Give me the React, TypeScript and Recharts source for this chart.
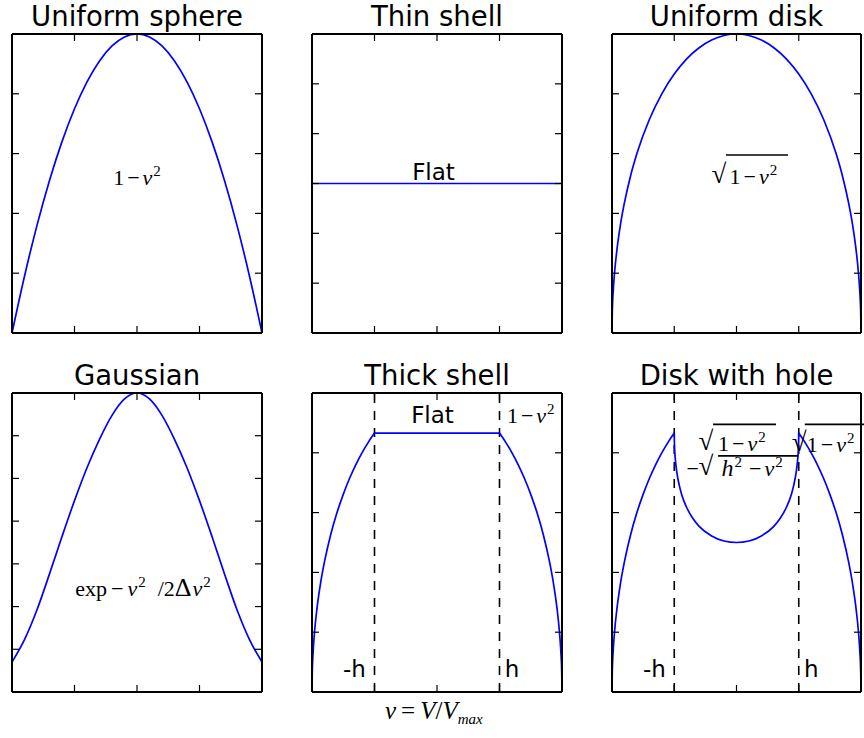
import React from "react";
import { LineChart, Line, XAxis, YAxis, ReferenceLine, ReferenceDot } from "recharts";

const BLUE = "#0000ff";
const SANS = "DejaVu Sans";
const SERIF = "Liberation Serif";
const MATH = 22;
const SUP = 15;

// v = V / Vmax
const sphereV = [-1, -0.9, -0.8, -0.7, -0.6, -0.5, -0.4, -0.3, -0.2, -0.1, 0, 0.1, 0.2, 0.3, 0.4, 0.5, 0.6, 0.7, 0.8, 0.9, 1];
const sphereY = [0, 0.19, 0.36, 0.51, 0.64, 0.75, 0.84, 0.91, 0.96, 0.99, 1, 0.99, 0.96, 0.91, 0.84, 0.75, 0.64, 0.51, 0.36, 0.19, 0];

const shellV = [-1, 1];
const shellY = [0.6, 0.6];

const diskV = [-1, -0.998, -0.99, -0.98, -0.96, -0.93, -0.9, -0.85, -0.8, -0.7, -0.6, -0.5, -0.4, -0.3, -0.2, -0.1, 0, 0.1, 0.2, 0.3, 0.4, 0.5, 0.6, 0.7, 0.8, 0.85, 0.9, 0.93, 0.96, 0.98, 0.99, 0.998, 1];
const diskY = [0, 0.063, 0.141, 0.199, 0.28, 0.368, 0.436, 0.527, 0.6, 0.714, 0.8, 0.866, 0.917, 0.954, 0.98, 0.995, 1, 0.995, 0.98, 0.954, 0.917, 0.866, 0.8, 0.714, 0.6, 0.527, 0.436, 0.368, 0.28, 0.199, 0.141, 0.063, 0];

const gaussV = [-1, -0.9, -0.8, -0.7, -0.6, -0.5, -0.4, -0.3, -0.2, -0.1, 0, 0.1, 0.2, 0.3, 0.4, 0.5, 0.6, 0.7, 0.8, 0.9, 1];
const gaussY = [0.07, 0.1225, 0.1925, 0.2765, 0.364, 0.448, 0.525, 0.5915, 0.6475, 0.686, 0.7, 0.686, 0.6475, 0.5915, 0.525, 0.448, 0.364, 0.2765, 0.1925, 0.1225, 0.07];

const outerLeftV = [-1, -0.998, -0.99, -0.98, -0.96, -0.93, -0.9, -0.85, -0.8, -0.75, -0.7, -0.65, -0.6, -0.55, -0.5];
const outerLeftY = [0, 0.063, 0.141, 0.199, 0.28, 0.368, 0.436, 0.527, 0.6, 0.661, 0.714, 0.76, 0.8, 0.835, 0.866];
const outerRightV = [0.5, 0.55, 0.6, 0.65, 0.7, 0.75, 0.8, 0.85, 0.9, 0.93, 0.96, 0.98, 0.99, 0.998, 1];
const outerRightY = [0.866, 0.835, 0.8, 0.76, 0.714, 0.661, 0.6, 0.527, 0.436, 0.368, 0.28, 0.199, 0.141, 0.063, 0];

const plateauV = [-0.5, 0.5];
const plateauY = [0.866, 0.866];

const holeV = [-0.5, -0.499, -0.495, -0.49, -0.48, -0.46, -0.44, -0.4, -0.35, -0.3, -0.2, -0.1, 0, 0.1, 0.2, 0.3, 0.35, 0.4, 0.44, 0.46, 0.48, 0.49, 0.495, 0.499, 0.5];
const holeY = [0.866, 0.835, 0.798, 0.772, 0.737, 0.692, 0.66, 0.617, 0.58, 0.554, 0.522, 0.505, 0.5, 0.505, 0.522, 0.554, 0.58, 0.617, 0.66, 0.692, 0.737, 0.772, 0.798, 0.835, 0.866];

const hEdges = [-0.5, 0.5];
const xTicks = [-0.5, 0, 0.5];
const unitTicks = [0.2, 0.4, 0.6, 0.8];
const shellTicks = [0.2, 0.4, 0.6, 0.8, 1.0];
const gaussTicks = [0.1, 0.2, 0.3, 0.4, 0.5, 0.6];

const titles = ["Uniform sphere", "Thin shell", "Uniform disk", "Gaussian", "Thick shell", "Disk with hole"];

const toRows = (v: number[], y: number[]) => v.map((x, i) => ({ v: x, y: y[i] }));

const boxes = [
  { left: 12, top: 34, w: 250, h: 299 },
  { left: 312, top: 34, w: 250, h: 299 },
  { left: 612, top: 34, w: 249, h: 299 },
  { left: 12, top: 393, w: 250, h: 299 },
  { left: 312, top: 393, w: 250, h: 299 },
  { left: 612, top: 393, w: 249, h: 299 },
];

const M = 3;
const TICK = 7;
const PLOT_H = 299;
const axisLine = { stroke: "#000", strokeWidth: 2 };
const tickLine = { stroke: "#000", strokeWidth: 1.2 };
const noLabel = () => <g />;

// boxed frame, ticks pointing inwards on all four sides
const frameX = { type: "number" as const, dataKey: "v", domain: [-1, 1], ticks: xTicks, interval: 0, mirror: true, allowDataOverflow: true, tick: noLabel, tickSize: TICK, axisLine, tickLine };
const axes = (yTicks: number[], yDomain: [number, number]) => {
  const frameY = { type: "number" as const, domain: yDomain, ticks: yTicks, interval: 0, mirror: true, allowDataOverflow: true, tick: noLabel, tickSize: TICK, axisLine, tickLine };
  // mirrored top axis only gives the frame line in recharts 3, so its ticks are short segments
  const top = yDomain[1];
  const len = ((yDomain[1] - yDomain[0]) * TICK) / PLOT_H;
  return [
    <XAxis key="xb" {...frameX} />,
    <XAxis key="xt" xAxisId="top" orientation="top" {...frameX} tickLine={false} />,
    <YAxis key="yl" {...frameY} />,
    <YAxis key="yr" yAxisId="right" orientation="right" {...frameY} />,
    ...xTicks.map((t) => (
      <ReferenceLine key={"tt" + t} segment={[{ x: t, y: top }, { x: t, y: top - len }]} stroke="#000" strokeWidth={1.2} />
    )),
  ];
};

const curve = (key: string, v: number[], y: number[], type: "monotone" | "linear" = "monotone") => (
  <Line key={key} data={toRows(v, y)} dataKey="y" type={type} stroke={BLUE} strokeWidth={1.7} dot={false} isAnimationActive={false} />
);

const dashed = () =>
  hEdges.map((x) => <ReferenceLine key={"d" + x} x={x} stroke="#000" strokeWidth={1.6} strokeDasharray="9 8" />);

// "1 − v²"
const oneMinusV2 = () => [
  <tspan key="a">1</tspan>,
  <tspan key="b" dx={3}>−</tspan>,
  <tspan key="c" dx={3} fontStyle="italic">v</tspan>,
  <tspan key="d" dy={-9} dx={1} fontSize={SUP}>2</tspan>,
];

type Pt = { x: number; y: number };
const at = (fn: (p: Pt) => React.ReactNode) => ({
  content: (p: any) => fn({ x: p.viewBox.x, y: p.viewBox.y }),
});

const mathText = (p: Pt, dx: number, dy: number, anchor: "start" | "middle", body: React.ReactNode) => (
  <text x={p.x + dx} y={p.y + dy} fontFamily={SERIF} fontSize={MATH} textAnchor={anchor} fill="#000">
    {body}
  </text>
);

const sansText = (p: Pt, dx: number, dy: number, s: string) => (
  <text x={p.x + dx} y={p.y + dy} fontFamily={SANS} fontSize={23} textAnchor="middle" fill="#000">
    {s}
  </text>
);

// radical sign + bar + radicand
const sqrt = (p: Pt, rx: number, tx: number, b0: number, b1: number, by: number, dy: number, body: React.ReactNode) => (
  <g>
    <text x={p.x + rx} y={p.y + dy - 1} fontFamily={SERIF} fontSize={27} fill="#000">√</text>
    <line x1={p.x + b0} x2={p.x + b1} y1={p.y + by} y2={p.y + by} stroke="#000" strokeWidth={1.7} />
    <text x={p.x + tx} y={p.y + dy} fontFamily={SERIF} fontSize={MATH} fill="#000">{body}</text>
  </g>
);

const label = (key: string, x: number, y: number, fn: (p: Pt) => React.ReactNode) => (
  <ReferenceDot key={key} x={x} y={y} r={0} fill="none" stroke="none" ifOverflow="visible" label={at(fn)} />
);

const hLabels = () => [
  label("mh", -0.66, 0.05, (p) => sansText(p, 0, 0, "-h")),
  label("ph", 0.6, 0.05, (p) => sansText(p, 0, 0, "h")),
];

const panels: React.ReactNode[] = [
  [
    ...axes(unitTicks, [0, 1]),
    curve("s", sphereV, sphereY),
    label("t", 0, 0.5, (p) => mathText(p, 0, 1.5, "middle", oneMinusV2())),
  ],
  [
    ...axes(shellTicks, [0, 1.2]),
    curve("s", shellV, shellY, "linear"),
    label("t", 0, 0.6, (p) => sansText(p, -3.5, -4, "Flat")),
  ],
  [
    ...axes(unitTicks, [0, 1]),
    curve("s", diskV, diskY),
    label("t", 0, 0.5, (p) => sqrt(p, -25, -7, -10.5, 51.5, -28.5, 0, oneMinusV2())),
  ],
  [
    ...axes(gaussTicks, [0, 0.7]),
    curve("s", gaussV, gaussY),
    label("t", 0, 0.224, (p) =>
      mathText(p, 6, 0, "middle", [
        <tspan key="a">exp</tspan>,
        <tspan key="b" dx={4}>−</tspan>,
        <tspan key="c" dx={4} fontStyle="italic">v</tspan>,
        <tspan key="d" dy={-9} dx={1} fontSize={SUP}>2</tspan>,
        <tspan key="e" dy={9} dx={12}>/2</tspan>,
        <tspan key="f" fontSize={26}>Δ</tspan>,
        <tspan key="g" dx={1} fontStyle="italic">v</tspan>,
        <tspan key="h" dy={-9} dx={1} fontSize={SUP}>2</tspan>,
      ])
    ),
  ],
  [
    ...axes(unitTicks, [0, 1]),
    ...dashed(),
    curve("l", outerLeftV, outerLeftY),
    curve("f", plateauV, plateauY, "linear"),
    curve("r", outerRightV, outerRightY),
    label("flat", 0, 0.9, (p) => sansText(p, -4.5, 0.5, "Flat")),
    label("q", 0.75, 0.9, (p) => mathText(p, 0, 0.5, "middle", oneMinusV2())),
    ...hLabels(),
  ],
  [
    ...axes(unitTicks, [0, 1]),
    ...dashed(),
    curve("l", outerLeftV, outerLeftY),
    curve("h", holeV, holeY),
    curve("r", outerRightV, outerRightY),
    label("a", 0, 0.8, (p) => (
      <g>
        {sqrt(p, -38, -18.5, -23.5, 39.5, -28.5, -1.5, oneMinusV2())}
        <text x={p.x - 50} y={p.y + 23.5} fontFamily={SERIF} fontSize={MATH} fill="#000">−</text>
        {sqrt(p, -38, -15, -18.5, 61.8, 3, 23.5, [
          <tspan key="h" fontStyle="italic" fontSize={24}>h</tspan>,
          <tspan key="s" dy={-9} dx={1} fontSize={SUP}>2</tspan>,
          <tspan key="m" dy={9} dx={7}>−</tspan>,
          <tspan key="v" dx={3} fontStyle="italic">v</tspan>,
          <tspan key="t" dy={-9} dx={1} fontSize={SUP}>2</tspan>,
        ])}
      </g>
    )),
    label("b", 0.5, 0.8, (p) => sqrt(p, -7, 8, 6, 80, -28.5, -1, oneMinusV2())),
    ...hLabels(),
  ],
];

export default function App() {
  return (
    <div style={{ position: "absolute", left: 0, top: 0, width: 864, height: 738, overflow: "hidden", background: "#fff" }}>
      {boxes.map((b, i) => (
        <div key={i} style={{ position: "absolute", left: b.left - M, top: b.top - M }}>
          <LineChart width={b.w + 2 * M} height={b.h + 2 * M} margin={{ top: M, right: M, bottom: M, left: M }}>
            {panels[i]}
          </LineChart>
        </div>
      ))}
      <svg width={864} height={738} style={{ position: "absolute", left: 0, top: 0, pointerEvents: "none" }}>
        {boxes.map((b, i) => (
          <text key={i} x={b.left + b.w / 2} y={b.top - 8.5} textAnchor="middle" fontFamily={SANS} fontSize={27.5} fill="#000">
            {titles[i]}
          </text>
        ))}
        <text x={385} y={719} fontFamily={SERIF} fontSize={25} fill="#000">
          <tspan fontStyle="italic">v</tspan>
          <tspan dx={5}>=</tspan>
          <tspan dx={5} fontStyle="italic">V</tspan>
          <tspan>/</tspan>
          <tspan fontStyle="italic">V</tspan>
          <tspan dy={5} fontSize={SUP} fontStyle="italic">max</tspan>
        </text>
      </svg>
    </div>
  );
}
